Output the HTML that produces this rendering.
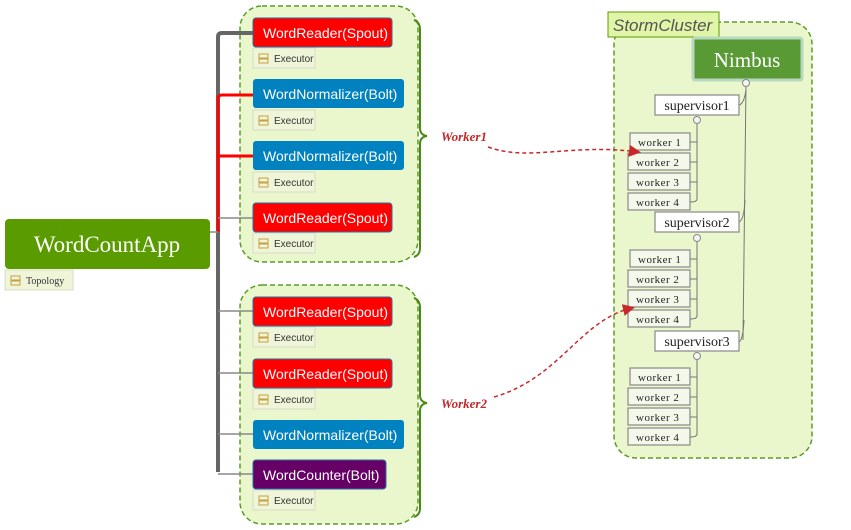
<!DOCTYPE html>
<html><head><meta charset="utf-8"><style>
html,body{margin:0;padding:0;background:#fff;width:851px;height:530px;overflow:hidden}
svg text{font-family:"Liberation Sans",sans-serif}
.n{fill:#fff;font-size:14px}
.ex{font-size:10px;fill:#333}
.w{font-family:"Liberation Serif",serif !important;font-size:11px;fill:#222;letter-spacing:0.5px}
.s{font-family:"Liberation Serif",serif !important;font-size:14px;fill:#222}
</style></head><body>
<svg width="851" height="530" viewBox="0 0 851 530" xmlns="http://www.w3.org/2000/svg">
<defs>
<marker id="ar" markerWidth="8" markerHeight="8" refX="6" refY="4" orient="auto"><path d="M0,0 L8,4 L0,8 z" fill="#c8282a"/></marker>
<g id="exe"><rect width="62" height="20" fill="#eef5d8" stroke="#d8dcc8"/><rect x="6" y="6" width="9" height="4" fill="none" stroke="#c8a040"/><rect x="6" y="11" width="9" height="4" fill="none" stroke="#c8a040"/><text x="21" y="14" class="ex">Executor</text></g>
</defs>
<rect x="240" y="6" width="178" height="256" rx="22" fill="#eaf6cc" stroke="#5a9c28" stroke-width="1.5" stroke-dasharray="5,3"/>
<rect x="240" y="285" width="178" height="239" rx="22" fill="#eaf6cc" stroke="#5a9c28" stroke-width="1.5" stroke-dasharray="5,3"/>
<rect x="614" y="22" width="198" height="436" rx="22" fill="#eaf6cc" stroke="#5a9c28" stroke-width="1.5" stroke-dasharray="5,3"/>
<path d="M218,472 V37 Q218,33 222,33 H253" fill="none" stroke="#666" stroke-width="4"/>
<path d="M218,232 V99 Q218,95 222,95 H253 M218,156 H253" fill="none" stroke="#f00" stroke-width="3"/>
<g stroke="#888" stroke-width="1.5" fill="none">
<path d="M218,218 H253 M218,311 H253 M218,373 H253 M218,434 H253 M218,474 H253 M210,232 H218"/>
</g>
<path d="M414,20 Q420,22 420,30 V128 Q420,135 427,136 Q420,137 420,144 V248 Q420,255 414,257" fill="none" stroke="#4a8a10" stroke-width="2"/>
<path d="M414,298 Q420,300 420,308 V395 Q420,402 427,403 Q420,404 420,411 V508 Q420,515 414,517" fill="none" stroke="#4a8a10" stroke-width="2"/>
<rect x="5" y="219" width="205" height="50" rx="4" fill="#5a9c00"/>
<text x="107" y="252" text-anchor="middle" style="font-family:'Liberation Serif',serif;font-size:23px;fill:#fff">WordCountApp</text>
<rect x="5" y="270" width="68" height="20" fill="#eef5d8" stroke="#d8dcc8"/>
<rect x="11" y="276" width="9" height="4" fill="none" stroke="#c8a040"/><rect x="11" y="281" width="9" height="4" fill="none" stroke="#c8a040"/>
<text x="26" y="284" style="font-family:'Liberation Serif',serif;font-size:10px;fill:#333">Topology</text>
<rect x="253" y="18" width="139" height="29" rx="3" fill="#f00" stroke="#2a6fa0"/><text x="263" y="38" class="n">WordReader(Spout)</text><use href="#exe" x="253" y="48"/>
<rect x="253" y="79" width="151" height="29" rx="3" fill="#0082c0"/><text x="263" y="99" class="n">WordNormalizer(Bolt)</text><use href="#exe" x="253" y="110"/>
<rect x="253" y="141" width="151" height="29" rx="3" fill="#0082c0"/><text x="263" y="161" class="n">WordNormalizer(Bolt)</text><use href="#exe" x="253" y="172"/>
<rect x="253" y="203" width="139" height="29" rx="3" fill="#f00" stroke="#2a6fa0"/><text x="263" y="223" class="n">WordReader(Spout)</text><use href="#exe" x="253" y="233"/>
<rect x="253" y="297" width="139" height="29" rx="3" fill="#f00" stroke="#2a6fa0"/><text x="263" y="317" class="n">WordReader(Spout)</text><use href="#exe" x="253" y="327"/>
<rect x="253" y="359" width="139" height="29" rx="3" fill="#f00" stroke="#2a6fa0"/><text x="263" y="379" class="n">WordReader(Spout)</text><use href="#exe" x="253" y="389"/>
<rect x="253" y="420" width="151" height="29" rx="3" fill="#0082c0"/><text x="263" y="440" class="n">WordNormalizer(Bolt)</text>
<rect x="253" y="460" width="133" height="29" rx="3" fill="#660066" stroke="#2a6fa0"/><text x="263" y="480" class="n">WordCounter(Bolt)</text><use href="#exe" x="253" y="490"/>
<text x="441" y="141" style="font-family:'Liberation Serif',serif;font-style:italic;font-weight:bold;font-size:13px;fill:#c0282a">Worker1</text>
<text x="441" y="408" style="font-family:'Liberation Serif',serif;font-style:italic;font-weight:bold;font-size:13px;fill:#c0282a">Worker2</text>
<rect x="608" y="12" width="111" height="25" fill="#e0f5a8" stroke="#5a9c00"/>
<text x="613" y="31" style="font-style:italic;font-size:17px;fill:#555">StormCluster</text>
<rect x="693" y="38" width="109" height="42" rx="2" fill="#5a9a35" stroke="#b8d8c0" stroke-width="3"/>
<text x="747" y="67" text-anchor="middle" style="font-family:'Liberation Serif',serif;font-size:21px;fill:#fff">Nimbus</text>
<g fill="none" stroke="#777" stroke-width="1">
<path d="M746,83 L743,340"/>
<path d="M746,90 Q744,104 739,105 M745,200 Q744,220 739,222 M744,320 Q743,340 739,342"/>
<path d="M697,120 V199 Q697,202 690,202 M690,142 H697 M690,162 H697 M690,182 H697"/>
<path d="M697,238 V316 Q697,319 690,319 M690,259 H697 M690,279 H697 M690,299 H697"/>
<path d="M697,356 V434 Q697,437 690,437 M690,377 H697 M690,397 H697 M690,417 H697"/>
</g>
<g fill="#f4f4f4" stroke="#888"><circle cx="746" cy="83" r="3.5"/><circle cx="697" cy="120" r="3.5"/><circle cx="697" cy="238" r="3.5"/><circle cx="697" cy="356" r="3.5"/></g>
<g fill="#fff" stroke="#888" stroke-width="1.2">
<rect x="655" y="95" width="84" height="20"/><rect x="655" y="212" width="84" height="20"/><rect x="655" y="331" width="84" height="20"/>
</g>
<text x="697" y="110" text-anchor="middle" class="s">supervisor1</text>
<text x="697" y="227" text-anchor="middle" class="s">supervisor2</text>
<text x="697" y="346" text-anchor="middle" class="s">supervisor3</text>
<g fill="#f4f8ea" stroke="#888" stroke-width="1.2">
<rect x="630" y="133" width="60" height="17"/><rect x="628" y="153" width="62" height="17"/><rect x="628" y="173" width="62" height="17"/><rect x="628" y="193" width="62" height="17"/>
<rect x="630" y="250" width="60" height="17"/><rect x="628" y="270" width="62" height="17"/><rect x="628" y="290" width="62" height="17"/><rect x="628" y="310" width="62" height="17"/>
<rect x="630" y="368" width="60" height="17"/><rect x="628" y="388" width="62" height="17"/><rect x="628" y="408" width="62" height="17"/><rect x="628" y="428" width="62" height="17"/>
</g>
<g>
<text x="638" y="146" class="w">worker 1</text><text x="636" y="166" class="w">worker 2</text><text x="636" y="186" class="w">worker 3</text><text x="636" y="206" class="w">worker 4</text>
<text x="638" y="263" class="w">worker 1</text><text x="636" y="283" class="w">worker 2</text><text x="636" y="303" class="w">worker 3</text><text x="636" y="323" class="w">worker 4</text>
<text x="638" y="381" class="w">worker 1</text><text x="636" y="401" class="w">worker 2</text><text x="636" y="421" class="w">worker 3</text><text x="636" y="441" class="w">worker 4</text>
</g>
<path d="M488,147 C530,162 570,143 638,152" fill="none" stroke="#c8282a" stroke-width="1.5" stroke-dasharray="4,3" marker-end="url(#ar)"/>
<path d="M494,397 C560,378 580,320 632,308" fill="none" stroke="#c8282a" stroke-width="1.5" stroke-dasharray="4,3" marker-end="url(#ar)"/>
</svg>
</body></html>
